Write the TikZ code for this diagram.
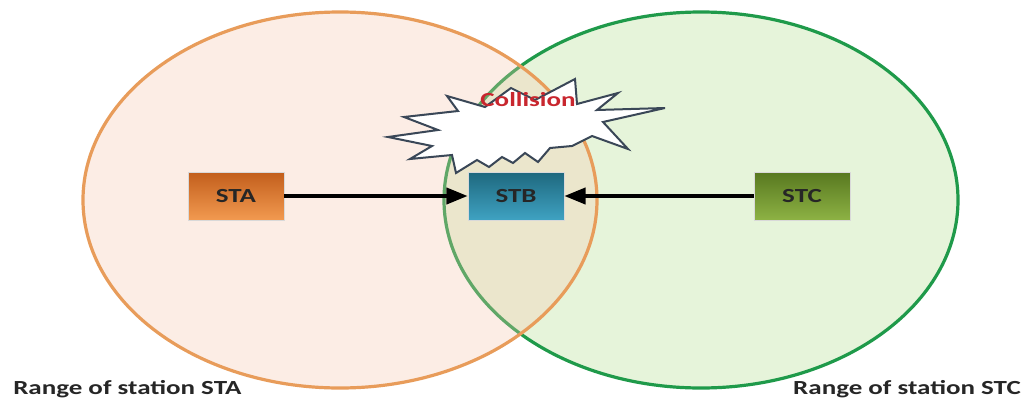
\documentclass[tikz,border=0pt]{standalone}
\usepackage{fontspec}
\usepackage{graphicx}
\setmainfont{Carlito}
\usetikzlibrary{arrows.meta}

\definecolor{rangeOrangeLine}{HTML}{E89C5A}
\definecolor{rangeOrangeFill}{HTML}{F8C6AC}
\definecolor{rangeGreenLine}{HTML}{1F9A4A}
\definecolor{rangeGreenFill}{HTML}{E6F4DA}
\definecolor{staTop}{HTML}{C25E1C}
\definecolor{staBot}{HTML}{F29A50}
\definecolor{stbTop}{HTML}{1E687E}
\definecolor{stbBot}{HTML}{3FA2C2}
\definecolor{stcTop}{HTML}{587820}
\definecolor{stcBot}{HTML}{8DB244}
\definecolor{boomLine}{HTML}{3A4757}
\definecolor{boomText}{HTML}{C8262E}
\definecolor{labelText}{HTML}{262626}

\newcommand{\wide}[1]{\scalebox{1.35}[1]{#1}}

\tikzset{
  station/.style={minimum width=72pt, minimum height=36pt, inner sep=0pt,
    draw=white!85!black, line width=0.4pt, shading=axis, shading angle=0,
    font=\fontsize{15pt}{16pt}\selectfont\bfseries, text=labelText},
  signal/.style={line width=3pt, -{Triangle[length=16pt,width=12pt]}},
  rangelabel/.style={font=\fontsize{15pt}{16pt}\selectfont\bfseries, text=labelText, inner sep=0pt}
}

\begin{document}
\begin{tikzpicture}[x=0.75pt, y=-0.75pt]
\useasboundingbox (0,0) rectangle (1024,400);
\fill[white] (0,0) rectangle (1024,400);

% coverage ranges
\draw[rangeGreenLine, line width=2.4pt, fill=rangeGreenFill] (701,200) ellipse [x radius=257, y radius=188];
\draw[rangeOrangeLine, line width=2.4pt, fill=rangeOrangeFill, fill opacity=0.3] (340,200) ellipse [x radius=257, y radius=188];

% stations
\node[station, top color=staTop, bottom color=staBot] (sta) at (236,196) {\wide{STA}};
\node[station, top color=stbTop, bottom color=stbBot] (stb) at (516,196) {\wide{STB}};
\node[station, top color=stcTop, bottom color=stcBot] (stc) at (802,196) {\wide{STC}};

% transmissions towards STB
\draw[signal] (sta.east) -- (stb.west);
\draw[signal] (stc.west) -- (stb.east);

% collision burst
\draw[boomLine, line width=1.5pt, fill=white, line join=miter]
  (447,96) -- (485,107) -- (511,88) -- (535,100) -- (575,79) -- (577,104)
  -- (618,93) -- (597,110) -- (665,108) -- (603,122) -- (628,149) -- (592,136)
  -- (572,146) -- (550,148) -- (538,162) -- (525,153) -- (513,163) -- (502,157)
  -- (489,167) -- (477,160) -- (456,173) -- (452,155) -- (410,159) -- (432,146)
  -- (388,137) -- (438,130) -- (404,117) -- (458,111) -- cycle;
\node[text=boomText, font=\fontsize{15pt}{16pt}\selectfont\bfseries, inner sep=0pt] (boom) at (528,100) {\wide{Collision}};

% range captions
\node[rangelabel, anchor=west] (rangeA) at (13,389) {\wide{Range of station STA}};
\node[rangelabel, anchor=east] (rangeC) at (1021,389) {\wide{Range of station STC}};
\end{tikzpicture}
\end{document}
